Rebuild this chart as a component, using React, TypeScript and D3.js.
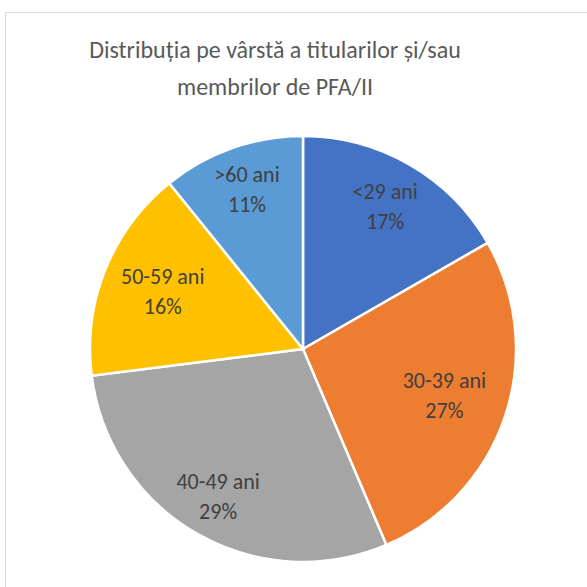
import React from "react";
import * as d3 from "d3";

const categories = ["<29 ani", "30-39 ani", "40-49 ani", "50-59 ani", ">60 ani"];
const values = [16.7, 26.9, 29.4, 16.2, 10.8];
const colors = ["#4472C4", "#ED7D31", "#A5A5A5", "#FFC000", "#5B9BD5"];
const titleLines = ["Distribuția pe vârstă a titularilor și/sau", "membrilor de PFA/II"];

export default function App() {
  const W = 587, H = 587;
  const cx = 303, cy = 349, R = 213;
  // Excel "best fit" label distances (fraction of radius), layout only
  const labelRadius = [0.77, 0.7, 0.8, 0.71, 0.79];
  const pie = d3.pie<number>().sort(null).value((d) => d);
  const arcs = pie(values);
  const total = d3.sum(values);
  const arcGen = d3.arc<d3.PieArcDatum<number>>().innerRadius(0).outerRadius(R);
  const fmt = d3.format(".0%");
  const font = "Carlito, Calibri, 'Open Sans', sans-serif";
  return (
    <svg width={W} height={H} style={{ position: "absolute", left: 0, top: 0 }}>
      <rect x={0} y={0} width={W} height={H} fill="#fff" />
      <rect x={5.5} y={12.5} width={620} height={620} fill="#fff" stroke="#d9d9d9" strokeWidth={1} />
      {titleLines.map((t, i) => (
        <text key={i} x={275} y={58 + i * 37} textAnchor="middle" fontFamily={font} fontSize={24} fill="#595959">
          {t}
        </text>
      ))}
      <g transform={`translate(${cx},${cy})`}>
        {arcs.map((a, i) => (
          <path key={i} d={arcGen(a) || ""} fill={colors[i]} stroke="#fff" strokeWidth={2.5} />
        ))}
        {arcs.map((a, i) => {
          const lr = R * labelRadius[i];
          const [x, y] = d3.arc<d3.PieArcDatum<number>>().innerRadius(lr).outerRadius(lr).centroid(a);
          return (
            <text key={i} textAnchor="middle" fontFamily={font} fontSize={22} fill="#404040">
              <tspan x={x} y={y - 8}>{categories[i]}</tspan>
              <tspan x={x} y={y + 22}>{fmt(values[i] / total)}</tspan>
            </text>
          );
        })}
      </g>
    </svg>
  );
}
